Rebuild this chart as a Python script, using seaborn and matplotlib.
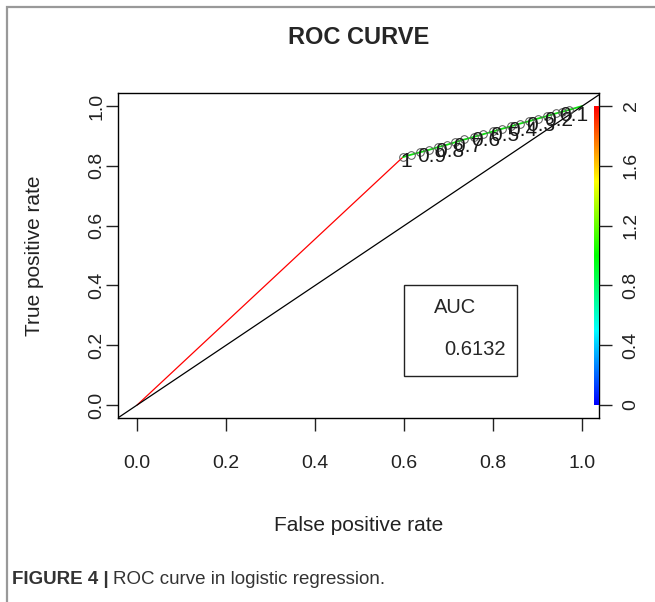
import numpy as np
import matplotlib
matplotlib.use("Agg")
import matplotlib.pyplot as plt
import seaborn as sns
import colorsys
import pandas as pd
from matplotlib.colors import ListedColormap
from matplotlib.patches import Rectangle

# ROC curve points
fpr = [0.0, 0.597, 0.615, 0.635, 0.655, 0.675, 0.695, 0.715, 0.735, 0.757, 0.778,
       0.800, 0.820, 0.840, 0.860, 0.880, 0.900, 0.920, 0.940, 0.955, 0.970, 1.0]
tpr = [0.0, 0.829, 0.837, 0.845, 0.853, 0.862, 0.870, 0.879, 0.888, 0.897, 0.906,
       0.915, 0.924, 0.932, 0.941, 0.949, 0.958, 0.966, 0.975, 0.981, 0.987, 1.0]
cutoff_idx = [1, 3, 5, 7, 9, 11, 13, 15, 17, 19]
cutoff_labels = ["1", "0.9", "0.8", "0.7", "0.6", "0.5", "0.4", "0.3", "0.2", "0.1"]
auc_value = "0.6132"
cbar_ticks = [0, 0.4, 0.8, 1.2, 1.6, 2]
cbar_labels = ["0", "0.4", "0.8", "1.2", "1.6", "2"]
axis_ticks = [0.0, 0.2, 0.4, 0.6, 0.8, 1.0]

sns.set_theme(style="ticks")
plt.rcParams['font.family'] = ['Liberation Sans', 'DejaVu Sans']

fig = plt.figure(figsize=(6.55, 6.02), dpi=100)
ax = fig.add_axes([118/655, 1 - 418/602, 481/655, 325/602])

# rainbow like R: blue at 0 up to red at 2
rainbow = ListedColormap([colorsys.hsv_to_rgb(h, 1, 1) for h in np.linspace(4/6, 0, 256)])

d = pd.DataFrame({'fpr': fpr, 'tpr': tpr})
sns.lineplot(data=d.iloc[:2], x='fpr', y='tpr', sort=False, color='#ff0000', lw=0.9, ax=ax)
sns.lineplot(data=d.iloc[1:], x='fpr', y='tpr', sort=False, color='#11dd11', lw=1.3, ax=ax)
ax.plot(d.fpr[1:-1], d.tpr[1:-1], ls='none', marker='o', ms=5.5, mfc='none',
        mec='#555555', mew=0.7, zorder=4)
ax.axline((0, 0), (1, 1), color='black', lw=0.9)

for i, lab in zip(cutoff_idx, cutoff_labels):
    ax.annotate(lab, (fpr[i], tpr[i]), xytext=(-2, -3), textcoords='offset points',
                ha='left', va='center', fontsize=15, color='#1a1a1a', zorder=5)

# AUC box
ax.add_patch(Rectangle((0.600, 0.097), 0.253, 0.304, fill=False, ec='#222222', lw=1.0))
ax.text(0.714, 0.325, "AUC", ha='center', va='center', fontsize=14.5)
ax.text(0.758, 0.184, auc_value, ha='center', va='center', fontsize=14.5)

# colour bar inside the plot region
grad = np.linspace(0, 2, 256).reshape(-1, 1)
ax.imshow(grad, extent=[1.027, 1.037, 0, 1], aspect='auto', cmap=rainbow, origin='lower', zorder=3)

ax.set_xlim(-0.043, 1.0375)
ax.set_ylim(-0.0435, 1.0435)
ax.set_xticks(axis_ticks)
ax.set_xticklabels(["0.0", "0.2", "0.4", "0.6", "0.8", "1.0"])
ax.set_yticks(axis_ticks)
ax.set_yticklabels(["0.0", "0.2", "0.4", "0.6", "0.8", "1.0"], rotation=90, va='center')
ax.tick_params(axis='both', length=9, width=1, color='#222222', labelsize=14, labelcolor='#222222')
ax.tick_params(axis='x', pad=18)
ax.tick_params(axis='y', pad=0)
for s in ax.spines.values():
    s.set_visible(True)
    s.set_color('black')
    s.set_linewidth(1.0)
ax.set_xlabel("False positive rate", fontsize=15, labelpad=31, color='#222222')
ax.set_ylabel("True positive rate", fontsize=15, labelpad=32, color='#222222')
ax.set_title("ROC CURVE", fontsize=17, fontweight='bold', pad=35)

ax2 = ax.twinx()
ax2.set_ylim(-0.087, 2.087)
ax2.set_yticks(cbar_ticks)
ax2.set_yticklabels(cbar_labels, rotation=90, va='center')
ax2.tick_params(axis='y', length=9, width=1, color='#222222', labelsize=14, labelcolor='#222222', pad=8)
for s in ax2.spines.values():
    s.set_visible(False)

# outer frame and caption
fig.add_artist(Rectangle((7/655, -0.1), 1.2, 1 - 7/602 + 0.1, transform=fig.transFigure,
                         fill=False, ec='#999999', lw=1.6))
cap = fig.text(12/655, 1 - 580/602, "FIGURE 4 |", fontsize=13.5, fontweight='bold',
               color='#333333', va='center')
fig.add_artist(plt.Annotation("ROC curve in logistic regression.", xy=(1, 0.5), xycoords=cap,
                              xytext=(3, 0), textcoords='offset points', va='center',
                              fontsize=13.5, color='#333333'))

fig.savefig("out.png", dpi=100)
